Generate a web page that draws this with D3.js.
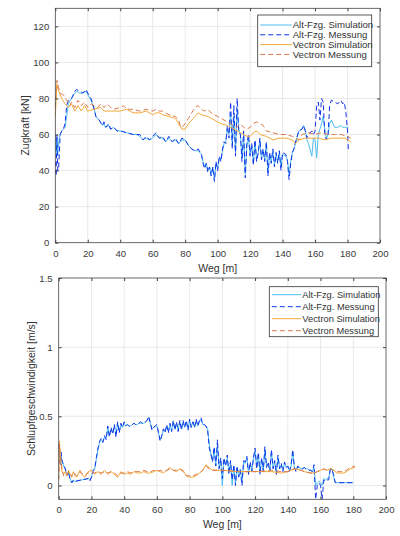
<!DOCTYPE html>
<html><head><meta charset="utf-8">
<script src="https://cdn.jsdelivr.net/npm/d3@7"></script>
<style>body{margin:0;background:#fff}svg{display:block}text{font-family:"Liberation Sans",Arial,Helvetica,sans-serif}</style>
</head><body><svg id="c" width="400" height="536"></svg>
<script>
// ---------- DATA ----------
const seriesNames = ["Alt-Fzg. Simulation","Alt-Fzg. Messung","Vectron Simulation","Vectron Messung"];
const xTicks = [0,20,40,60,80,100,120,140,160,180,200];
const yTicksTop = [0,20,40,60,80,100,120];
const yTicksBot = [0,0.5,1,1.5];

// Top: Zugkraft [kN]
const altXTop = [0,0.5,1,1.5,2,3,4,5,6,7,8,10,12,13,15,17,19,20,22,24,25,27,29,30,31,33,34,36,38,40,44,48,50,52,54,56,58,60,62,64,66,68,70,72,74,76,78,80,82,84,86,88,90,
91,92,93,94,95,96,97,98,99,100,101,102,103,104,105,106,107,108,109,110,111,112,113,114,115,116,117,118,119,120,121,122,123,124,125,126,127,128,129,130,131,132,133,134,135,136,137,138,139,140,
142,143,144,145,146,147,148,150,152,153,154,155,156,158,159,160,161,162,163,164,165,166,167,168,169,170,172,174,176,177,178,179,180,180.5];
const altMesTop = [45,37,60,40,40,60,62,63,66,76,79,80,84,85,84,83,85,83,80,74,70,68,65,67,64,66,63,64,62,62,61,60,60,60,57,59,57,59,61,58,59,56,59,56,58,55,58,57,54,52,51,52,49,
44,41,44,39,42,37,42,34,45,40,48,45,52,56,55,65,58,78,52,76,48,80,62,60,45,62,36,55,60,48,55,43,57,45,50,58,46,52,45,56,37,50,44,52,42,50,44,51,40,50,
49,45,35,44,50,52,56,62,63,65,62,58,60,62,60,62,76,78,68,80,78,60,57,60,76,79,78,77,79,77,78,72,62,51];
const altSimTop = [60,50,58,48,55,60,62,63,64,70,77,80,83,84,83,83,84,82,79,74,70,68,65,66,64,65,63,64,62,62,61,60,60,59,57,58,57,58,60,58,58,56,58,56,57,55,57,57,54,52,51,51,49,
45,42,44,40,42,38,42,35,44,41,47,46,51,55,56,63,60,72,55,70,50,74,63,60,47,60,38,54,58,49,54,44,56,46,50,57,47,51,46,55,39,49,45,51,43,49,45,50,42,49,
48,46,37,45,50,52,55,62,63,65,62,57,55,48,58,57,47,60,63,66,70,63,58,60,66,68,64,64,65,64,64,64,64,64];
const vecMesXTop = [0,0.5,1,2,3,5,7,9,10,12,14,16,18,20,22,24,26,28,30,32,34,36,40,42,44,48,52,56,60,62,64,66,70,74,76,77,78,80,82,84,86,88,90,92,94,96,100,104,108,110,112,114,116,118,120,122,124,126,128,130,134,138,142,146,148,150,152,156,160,164,168,172,176,180,182];
const vecMesTop = [75,85,90,86,83,82,79,76,78,75,79,76,78,75,77,76,75,77,75,77,75,74,75,76,74,74,73,74,73,74,73,73,71,70,68,65,64,66,69,72,75,76,74,73,74,72,70,68,66,65,64,66,64,63,64,66,67,66,65,62,61,60,60,59,58,57,60,61,60,61,60,60,60,59,58];
const vecSimXTop = [0,1,2,4,6,8,10,12,14,16,18,20,24,28,30,34,40,44,48,52,56,60,62,64,66,70,74,76,78,80,82,84,86,88,90,94,98,102,106,110,114,118,120,122,124,126,130,134,138,142,146,148,150,154,158,162,166,170,174,178,182];
const vecSimTop = [70,88,84,80,77,75,77,73,76,73,76,73,74,75,73,73,73,74,72,72,73,71,72,72,71,70,69,66,63,63,66,68,70,72,71,70,68,66,65,63,61,59,59,61,62,60,59,57,58,58,57,55,57,58,58,58,57,58,58,58,56];

// Bottom: Schlupfgeschwindigkeit [m/s]
const altXBot = [0,0.5,1,1.5,2,3,4,5,6,7,8,9,10,14,18,19,20,21,22,23,24,25,
26,27,28,29,30,31,32,33,34,35,36,37,38,39,40,41,42,43,44,45,46,47,48,49,50,51,52,53,54,55,56,57,58,59,60,61,62,63,64,65,66,67,68,69,70,71,72,73,74,75,76,77,78,79,80,81,82,83,84,85,86,87,88,89,90,91,
92,93,94,95,96,97,98,99,100,101,102,103,104,105,106,107,108,109,110,111,112,113,114,115,116,117,118,119,120,121,122,123,124,125,126,127,128,129,130,131,132,133,134,135,136,137,138,139,140,141,142,143,144,145,146,147,148,149,150,151,152,153,154,155,156,157,158,159,160,161,162,163,164,165,166,167,168,169,170,175,180];
const altMesBot = [0.3,0.22,0.15,0.24,0.18,0.15,0.12,0.07,0.1,0.04,0.02,0.04,0.03,0.04,0.05,0.03,0.06,0.11,0.12,0.2,0.27,0.32,
0.34,0.31,0.36,0.33,0.43,0.35,0.42,0.37,0.44,0.35,0.46,0.38,0.45,0.42,0.46,0.43,0.44,0.43,0.43,0.44,0.45,0.44,0.44,0.45,0.46,0.45,0.45,0.46,0.47,0.5,
0.45,0.4,0.42,0.43,0.44,0.38,0.32,0.36,0.41,0.38,0.44,0.38,0.45,0.39,0.47,0.4,0.46,0.39,0.47,0.4,0.47,0.42,0.47,0.4,0.48,0.42,0.46,0.42,0.48,0.43,0.47,0.49,0.44,0.44,0.43,0.4,
0.27,0.23,0.17,0.28,0.14,0.33,0.12,0.2,0.05,0.2,0.14,0.22,0.08,0.18,0.04,0.15,0.0,0.14,0.06,0.11,0.0,0.18,0.17,0.21,0.08,0.17,0.1,0.2,0.27,
0.12,0.24,0.08,0.2,0.1,0.28,0.13,0.17,0.1,0.26,0.12,0.18,0.08,0.22,0.12,0.16,0.1,0.17,0.13,0.14,0.1,0.15,0.26,0.13,0.1,0.14,0.13,0.12,0.12,0.13,
0.12,0.12,0.11,0.11,0.1,0.15,-0.1,0.0,0.02,0.0,-0.1,0.04,0.03,0.04,0.04,0.12,0.11,0.08,0.02,0.02,0.02,0.02];
const altSimBot = [0.28,0.2,0.16,0.22,0.17,0.14,0.12,0.08,0.09,0.05,0.02,0.03,0.03,0.04,0.05,0.04,0.06,0.1,0.12,0.19,0.26,0.31,
0.33,0.32,0.35,0.34,0.42,0.36,0.41,0.38,0.43,0.36,0.45,0.39,0.44,0.42,0.45,0.43,0.44,0.43,0.43,0.44,0.45,0.44,0.44,0.45,0.45,0.45,0.45,0.46,0.47,0.49,
0.45,0.41,0.42,0.43,0.43,0.38,0.33,0.36,0.4,0.39,0.43,0.39,0.44,0.4,0.46,0.41,0.45,0.4,0.46,0.41,0.46,0.42,0.46,0.41,0.47,0.42,0.46,0.42,0.47,0.43,0.46,0.48,0.44,0.44,0.43,0.41,
0.3,0.22,0.18,0.26,0.15,0.3,0.13,0.18,0.0,0.18,0.15,0.2,0.09,0.17,0.0,0.14,0.02,0.13,0.07,0.12,0.02,0.17,0.16,0.2,0.09,0.16,0.11,0.19,0.25,
0.13,0.22,0.09,0.19,0.11,0.26,0.14,0.16,0.11,0.24,0.13,0.17,0.09,0.2,0.13,0.15,0.11,0.16,0.13,0.14,0.11,0.14,0.24,0.13,0.11,0.13,0.13,0.12,0.12,0.13,
0.12,0.12,0.11,0.11,0.1,0.13,0.0,0.02,0.03,0.02,0.0,0.05,0.04,0.05,0.06,0.12,0.12,0.06,0.02,0.02,0.02,0.02];
const vecXBot = [0,0.5,1,2,3,4,5,6,7,8,9,10,11,13,14,16,18,20,22,24,26,28,30,32,34,36,38,40,42,44,46,48,50,52,54,56,58,60,62,64,66,68,70,72,74,76,78,80,82,84,86,88,90,92,94,100,110,120,130,136,140,144,148,150,154,156,158,160,162,164,166,168,170,172,174,176,178,181];
const vecSimBot = [0.05,0.32,0.2,0.1,0.08,0.1,0.07,0.11,0.08,0.07,0.1,0.07,0.06,0.11,0.08,0.06,0.1,0.11,
0.08,0.1,0.08,0.11,0.08,0.1,0.08,0.06,0.1,0.08,0.09,0.08,0.1,0.09,0.09,0.1,0.09,0.09,0.1,0.11,0.1,0.09,0.11,0.13,0.11,0.1,0.12,0.11,0.07,0.06,0.06,0.07,0.09,0.11,0.15,0.13,0.11,
0.11,0.1,0.1,0.1,0.09,0.1,0.12,0.11,0.1,0.09,0.09,0.1,0.11,0.12,0.11,0.12,0.11,0.09,0.09,0.09,0.1,0.12,0.13];
const vecMesBot = [0.04,0.3,0.22,0.12,0.07,0.09,0.08,0.1,0.09,0.06,0.09,0.08,0.07,0.1,0.09,0.07,0.09,0.1,
0.09,0.1,0.09,0.1,0.09,0.1,0.09,0.07,0.09,0.09,0.1,0.09,0.1,0.1,0.1,0.11,0.1,0.1,0.11,0.1,0.11,0.1,0.11,0.12,0.11,0.11,0.12,0.1,0.07,0.07,0.07,0.08,0.09,0.11,0.14,0.12,0.11,
0.11,0.1,0.1,0.11,0.1,0.1,0.12,0.11,0.1,0.09,0.09,0.1,0.11,0.12,0.11,0.12,0.11,0.1,0.1,0.1,0.11,0.13,0.14];

// ---------- STYLE ----------
const colors = ["#4DBEEE","#1433E6","#F2A93B","#DB7A4A"];
const dashes = [null,"5,3",null,"5,3"];

const svg = d3.select("#c");

function panel(cfg){
  const {left,right,top,bottom,yDomain,yTicks,yFmt,yLabel,yLabelX,series,leg,id} = cfg;
  const x = d3.scaleLinear().domain([0,200]).range([left,right]);
  const y = d3.scaleLinear().domain(yDomain).range([bottom,top]);
  const g = svg.append("g");
  g.append("rect").attr("x",left).attr("y",top).attr("width",right-left).attr("height",bottom-top).attr("fill","#fff");
  // grid
  g.append("g").selectAll("line").data(xTicks.slice(1,-1)).join("line")
    .attr("x1",d=>x(d)).attr("x2",d=>x(d)).attr("y1",top).attr("y2",bottom)
    .attr("stroke","#e3e3e3").attr("stroke-width",0.8);
  g.append("g").selectAll("line").data(yTicks.filter(t=>y(t)>top+1&&y(t)<bottom-1)).join("line")
    .attr("x1",left).attr("x2",right).attr("y1",d=>y(d)).attr("y2",d=>y(d))
    .attr("stroke","#e3e3e3").attr("stroke-width",0.8);
  // clip
  svg.append("defs").append("clipPath").attr("id",id).append("rect")
    .attr("x",left).attr("y",top).attr("width",right-left).attr("height",bottom-top);
  const lg = g.append("g").attr("clip-path",`url(#${id})`);
  series.forEach((s,i)=>{
    const line = d3.line().x((d,j)=>x(s.x[j])).y(d=>y(d));
    lg.append("path").attr("d",line(s.y)).attr("fill","none")
      .attr("stroke",colors[i]).attr("stroke-width",1)
      .attr("stroke-dasharray",dashes[i]).attr("stroke-linejoin","round");
  });
  // axes (ticks inward)
  const ax = g.append("g").attr("transform",`translate(0,${bottom})`)
    .call(d3.axisBottom(x).tickValues(xTicks).tickSize(-3).tickPadding(7));
  const axT = g.append("g").attr("transform",`translate(0,${top})`)
    .call(d3.axisTop(x).tickValues(xTicks).tickSize(-3).tickFormat(""));
  const ay = g.append("g").attr("transform",`translate(${left},0)`)
    .call(d3.axisLeft(y).tickValues(yTicks).tickFormat(yFmt).tickSize(-3).tickPadding(6));
  const ayR = g.append("g").attr("transform",`translate(${right},0)`)
    .call(d3.axisRight(y).tickValues(yTicks).tickSize(-3).tickFormat(""));
  [ax,axT,ay,ayR].forEach(a=>{
    a.select(".domain").remove();
    a.selectAll("line").attr("stroke","#444");
    a.selectAll("text").attr("fill","#3a3a3a").style("font-size","9.6px").attr("font-family",null);
  });
  g.append("rect").attr("x",left).attr("y",top).attr("width",right-left).attr("height",bottom-top)
    .attr("fill","none").attr("stroke","#444").attr("stroke-width",0.8);
  // labels
  g.append("text").attr("x",(left+right)/2).attr("y",cfg.xLabelY).attr("text-anchor","middle")
    .attr("fill","#333").style("font-size","10.5px").text("Weg [m]");
  g.append("text").attr("transform",`translate(${yLabelX},${(top+bottom)/2}) rotate(-90)`)
    .attr("text-anchor","middle").attr("fill","#333").style("font-size","10.5px").text(yLabel);
  // legend
  const L = g.append("g");
  L.append("rect").attr("x",leg.x).attr("y",leg.y).attr("width",leg.w).attr("height",leg.h)
    .attr("fill","#fff").attr("stroke","#333").attr("stroke-width",0.8);
  seriesNames.forEach((n,i)=>{
    const yy = leg.y + leg.r0 + i*leg.dy;
    L.append("line").attr("x1",leg.x+leg.l0).attr("x2",leg.x+leg.l1).attr("y1",yy).attr("y2",yy)
      .attr("stroke",colors[i]).attr("stroke-width",1).attr("stroke-dasharray",dashes[i]);
    L.append("text").attr("x",leg.x+leg.l1+1).attr("y",yy+3.3).attr("fill","#333")
      .style("font-size",leg.fs).text(n);
  });
}

panel({id:"clipTop",left:55.3,right:380,top:8.3,bottom:242.7,yDomain:[0,130],yTicks:yTicksTop,
  yFmt:d3.format("d"),yLabel:"Zugkraft [kN]",yLabelX:29,xLabelY:272,
  series:[{x:altXTop,y:altSimTop},{x:altXTop,y:altMesTop},{x:vecSimXTop,y:vecSimTop},{x:vecMesXTop,y:vecMesTop}],
  leg:{x:257.7,y:15,w:114,h:51.7,dy:9.8,r0:10,l0:2.5,l1:34,fs:"9.6px"}});
panel({id:"clipBot",left:58.7,right:386,top:278,bottom:499.3,yDomain:[-0.1,1.5],yTicks:yTicksBot,
  yFmt:d=>String(d),yLabel:"Schlupfgeschwindigkeit [m/s]",yLabelX:35,xLabelY:528,
  series:[{x:altXBot,y:altSimBot},{x:altXBot,y:altMesBot},{x:vecXBot,y:vecSimBot},{x:vecXBot,y:vecMesBot}],
  leg:{x:269.3,y:286.7,w:109,h:50,dy:12,r0:8,l0:2.5,l1:32,fs:"9.3px"}});
</script></body></html>
